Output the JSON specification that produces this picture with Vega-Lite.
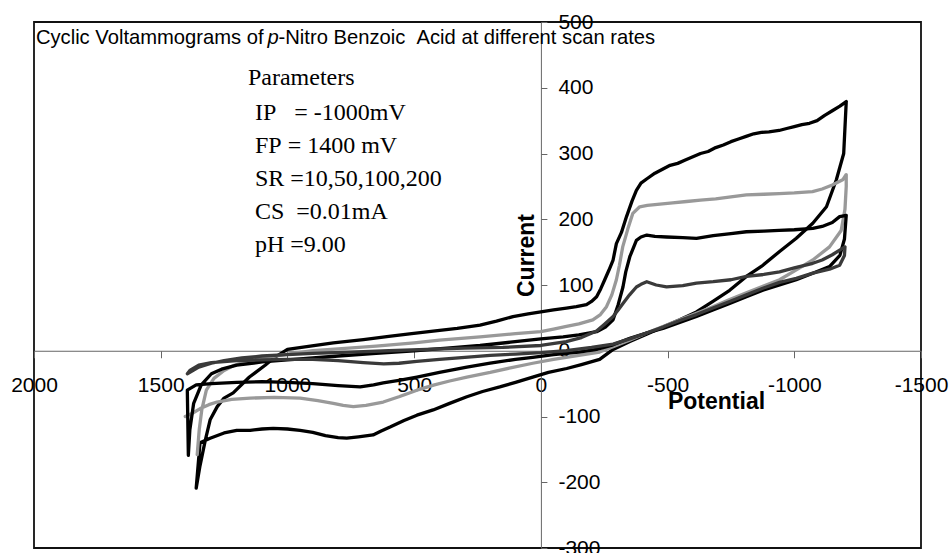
{
  "$schema": "https://vega.github.io/schema/vega-lite/v6.json",
  "autosize": {"type": "none"},
  "padding": {"left": 34, "top": 22, "right": 30, "bottom": 5},
  "width": 887,
  "height": 526,
  "background": "#ffffff",
  "config": {
    "view": {"stroke": "#111111", "strokeWidth": 1.8},
    "axis": {"grid": false}
  },
  "datasets": {
    "cv": [
      {"s":"A","i":1,"x":-1205,"y":379},{"s":"A","i":2,"x":-1180,"y":372},{"s":"A","i":3,"x":-1150,"y":365},{"s":"A","i":4,"x":-1120,"y":358},{"s":"A","i":5,"x":-1090,"y":350},{"s":"A","i":6,"x":-1060,"y":346},{"s":"A","i":7,"x":-1030,"y":344},{"s":"A","i":8,"x":-1000,"y":341},{"s":"A","i":9,"x":-970,"y":338},{"s":"A","i":10,"x":-940,"y":335},{"s":"A","i":11,"x":-900,"y":333},{"s":"A","i":12,"x":-870,"y":332},{"s":"A","i":13,"x":-840,"y":330},{"s":"A","i":14,"x":-810,"y":326},{"s":"A","i":15,"x":-780,"y":322},{"s":"A","i":16,"x":-750,"y":318},{"s":"A","i":17,"x":-720,"y":313},{"s":"A","i":18,"x":-690,"y":309},{"s":"A","i":19,"x":-660,"y":303},{"s":"A","i":20,"x":-630,"y":300},{"s":"A","i":21,"x":-600,"y":295},{"s":"A","i":22,"x":-570,"y":290},{"s":"A","i":23,"x":-540,"y":285},{"s":"A","i":24,"x":-510,"y":282},{"s":"A","i":25,"x":-480,"y":276},{"s":"A","i":26,"x":-450,"y":270},{"s":"A","i":27,"x":-420,"y":262},{"s":"A","i":28,"x":-395,"y":255},{"s":"A","i":29,"x":-377,"y":244},{"s":"A","i":30,"x":-360,"y":228},{"s":"A","i":31,"x":-338,"y":204},{"s":"A","i":32,"x":-318,"y":180},{"s":"A","i":33,"x":-298,"y":163},{"s":"A","i":34,"x":-285,"y":138},{"s":"A","i":35,"x":-268,"y":122},{"s":"A","i":36,"x":-252,"y":108},{"s":"A","i":37,"x":-236,"y":94},{"s":"A","i":38,"x":-220,"y":82},{"s":"A","i":39,"x":-200,"y":75},{"s":"A","i":40,"x":-180,"y":70},{"s":"A","i":41,"x":-140,"y":67},{"s":"A","i":42,"x":-101,"y":65},{"s":"A","i":43,"x":-50,"y":62},{"s":"A","i":44,"x":0,"y":59},{"s":"A","i":45,"x":50,"y":56},{"s":"A","i":46,"x":110,"y":52},{"s":"A","i":47,"x":175,"y":45},{"s":"A","i":48,"x":240,"y":39},{"s":"A","i":49,"x":330,"y":34},{"s":"A","i":50,"x":425,"y":30},{"s":"A","i":51,"x":510,"y":26},{"s":"A","i":52,"x":600,"y":22},{"s":"A","i":53,"x":700,"y":17},{"s":"A","i":54,"x":819,"y":12},{"s":"A","i":55,"x":910,"y":7},{"s":"A","i":56,"x":1000,"y":2},{"s":"A","i":57,"x":1050,"y":-10},{"s":"A","i":58,"x":1088,"y":-22},{"s":"A","i":59,"x":1150,"y":-40},{"s":"A","i":60,"x":1214,"y":-64},{"s":"A","i":61,"x":1250,"y":-72},{"s":"A","i":62,"x":1277,"y":-85},{"s":"A","i":63,"x":1305,"y":-105},{"s":"A","i":64,"x":1324,"y":-136},{"s":"A","i":65,"x":1345,"y":-175},{"s":"A","i":66,"x":1360,"y":-209},{"s":"A","i":67,"x":1345,"y":-140},{"s":"A","i":68,"x":1305,"y":-133},{"s":"A","i":69,"x":1250,"y":-125},{"s":"A","i":70,"x":1200,"y":-121},{"s":"A","i":71,"x":1147,"y":-121},{"s":"A","i":72,"x":1100,"y":-119},{"s":"A","i":73,"x":1056,"y":-118},{"s":"A","i":74,"x":1000,"y":-119},{"s":"A","i":75,"x":950,"y":-121},{"s":"A","i":76,"x":900,"y":-124},{"s":"A","i":77,"x":850,"y":-129},{"s":"A","i":78,"x":800,"y":-132},{"s":"A","i":79,"x":766,"y":-133},{"s":"A","i":80,"x":720,"y":-131},{"s":"A","i":81,"x":662,"y":-128},{"s":"A","i":82,"x":630,"y":-122},{"s":"A","i":83,"x":595,"y":-116},{"s":"A","i":84,"x":540,"y":-106},{"s":"A","i":85,"x":489,"y":-98},{"s":"A","i":86,"x":425,"y":-90},{"s":"A","i":87,"x":360,"y":-80},{"s":"A","i":88,"x":292,"y":-70},{"s":"A","i":89,"x":230,"y":-62},{"s":"A","i":90,"x":162,"y":-55},{"s":"A","i":91,"x":100,"y":-48},{"s":"A","i":92,"x":32,"y":-40},{"s":"A","i":93,"x":-30,"y":-33},{"s":"A","i":94,"x":-102,"y":-27},{"s":"A","i":95,"x":-160,"y":-21},{"s":"A","i":96,"x":-232,"y":-13},{"s":"A","i":97,"x":-285,"y":2},{"s":"A","i":98,"x":-351,"y":14},{"s":"A","i":99,"x":-417,"y":25},{"s":"A","i":100,"x":-482,"y":36},{"s":"A","i":101,"x":-548,"y":47},{"s":"A","i":102,"x":-614,"y":59},{"s":"A","i":103,"x":-679,"y":75},{"s":"A","i":104,"x":-745,"y":92},{"s":"A","i":105,"x":-811,"y":113},{"s":"A","i":106,"x":-876,"y":130},{"s":"A","i":107,"x":-942,"y":151},{"s":"A","i":108,"x":-1008,"y":171},{"s":"A","i":109,"x":-1073,"y":194},{"s":"A","i":110,"x":-1127,"y":219},{"s":"A","i":111,"x":-1166,"y":260},{"s":"A","i":112,"x":-1195,"y":300},{"s":"A","i":113,"x":-1205,"y":379},

      {"s":"B","i":1,"x":1403,"y":-100},{"s":"B","i":2,"x":1375,"y":-95},{"s":"B","i":3,"x":1344,"y":-88},{"s":"B","i":4,"x":1310,"y":-82},{"s":"B","i":5,"x":1278,"y":-78},{"s":"B","i":6,"x":1220,"y":-74},{"s":"B","i":7,"x":1147,"y":-72},{"s":"B","i":8,"x":1050,"y":-71},{"s":"B","i":9,"x":950,"y":-72},{"s":"B","i":10,"x":880,"y":-76},{"s":"B","i":11,"x":819,"y":-80},{"s":"B","i":12,"x":780,"y":-83},{"s":"B","i":13,"x":740,"y":-85},{"s":"B","i":14,"x":690,"y":-83},{"s":"B","i":15,"x":622,"y":-78},{"s":"B","i":16,"x":560,"y":-70},{"s":"B","i":17,"x":489,"y":-60},{"s":"B","i":18,"x":420,"y":-52},{"s":"B","i":19,"x":360,"y":-46},{"s":"B","i":20,"x":292,"y":-40},{"s":"B","i":21,"x":200,"y":-33},{"s":"B","i":22,"x":120,"y":-26},{"s":"B","i":23,"x":32,"y":-19},{"s":"B","i":24,"x":-50,"y":-13},{"s":"B","i":25,"x":-150,"y":-7},{"s":"B","i":26,"x":-232,"y":-2},{"s":"B","i":27,"x":-285,"y":6},{"s":"B","i":28,"x":-350,"y":16},{"s":"B","i":29,"x":-417,"y":27},{"s":"B","i":30,"x":-482,"y":37},{"s":"B","i":31,"x":-548,"y":47},{"s":"B","i":32,"x":-614,"y":57},{"s":"B","i":33,"x":-679,"y":67},{"s":"B","i":34,"x":-745,"y":78},{"s":"B","i":35,"x":-811,"y":88},{"s":"B","i":36,"x":-876,"y":98},{"s":"B","i":37,"x":-942,"y":108},{"s":"B","i":38,"x":-1008,"y":123},{"s":"B","i":39,"x":-1073,"y":138},{"s":"B","i":40,"x":-1139,"y":158},{"s":"B","i":41,"x":-1185,"y":183},{"s":"B","i":42,"x":-1200,"y":215},{"s":"B","i":43,"x":-1205,"y":250},{"s":"B","i":44,"x":-1205,"y":268},{"s":"B","i":45,"x":-1191,"y":260},{"s":"B","i":46,"x":-1150,"y":252},{"s":"B","i":47,"x":-1110,"y":246},{"s":"B","i":48,"x":-1072,"y":242},{"s":"B","i":49,"x":-1000,"y":240},{"s":"B","i":50,"x":-940,"y":239},{"s":"B","i":51,"x":-880,"y":238},{"s":"B","i":52,"x":-811,"y":237},{"s":"B","i":53,"x":-750,"y":234},{"s":"B","i":54,"x":-690,"y":231},{"s":"B","i":55,"x":-630,"y":229},{"s":"B","i":56,"x":-575,"y":227},{"s":"B","i":57,"x":-520,"y":225},{"s":"B","i":58,"x":-470,"y":223},{"s":"B","i":59,"x":-420,"y":221},{"s":"B","i":60,"x":-390,"y":219},{"s":"B","i":61,"x":-363,"y":209},{"s":"B","i":62,"x":-343,"y":185},{"s":"B","i":63,"x":-323,"y":158},{"s":"B","i":64,"x":-310,"y":130},{"s":"B","i":65,"x":-298,"y":108},{"s":"B","i":66,"x":-280,"y":85},{"s":"B","i":67,"x":-259,"y":67},{"s":"B","i":68,"x":-235,"y":55},{"s":"B","i":69,"x":-205,"y":47},{"s":"B","i":70,"x":-150,"y":41},{"s":"B","i":71,"x":-101,"y":37},{"s":"B","i":72,"x":-50,"y":33},{"s":"B","i":73,"x":0,"y":29},{"s":"B","i":74,"x":100,"y":26},{"s":"B","i":75,"x":240,"y":21},{"s":"B","i":76,"x":400,"y":16},{"s":"B","i":77,"x":500,"y":12},{"s":"B","i":78,"x":650,"y":7},{"s":"B","i":79,"x":800,"y":3},{"s":"B","i":80,"x":900,"y":0},{"s":"B","i":81,"x":1000,"y":-5},{"s":"B","i":82,"x":1080,"y":-10},{"s":"B","i":83,"x":1150,"y":-15},{"s":"B","i":84,"x":1210,"y":-22},{"s":"B","i":85,"x":1250,"y":-30},{"s":"B","i":86,"x":1290,"y":-42},{"s":"B","i":87,"x":1320,"y":-60},{"s":"B","i":88,"x":1338,"y":-90},{"s":"B","i":89,"x":1348,"y":-120},{"s":"B","i":90,"x":1356,"y":-158},

      {"s":"C","i":1,"x":-1205,"y":206},{"s":"C","i":2,"x":-1179,"y":204},{"s":"C","i":3,"x":-1150,"y":195},{"s":"C","i":4,"x":-1110,"y":189},{"s":"C","i":5,"x":-1073,"y":186},{"s":"C","i":6,"x":-1000,"y":184},{"s":"C","i":7,"x":-940,"y":183},{"s":"C","i":8,"x":-880,"y":182},{"s":"C","i":9,"x":-811,"y":181},{"s":"C","i":10,"x":-750,"y":178},{"s":"C","i":11,"x":-680,"y":175},{"s":"C","i":12,"x":-614,"y":171},{"s":"C","i":13,"x":-560,"y":172},{"s":"C","i":14,"x":-496,"y":173},{"s":"C","i":15,"x":-450,"y":174},{"s":"C","i":16,"x":-418,"y":176},{"s":"C","i":17,"x":-395,"y":173},{"s":"C","i":18,"x":-377,"y":168},{"s":"C","i":19,"x":-351,"y":143},{"s":"C","i":20,"x":-335,"y":120},{"s":"C","i":21,"x":-324,"y":97},{"s":"C","i":22,"x":-305,"y":70},{"s":"C","i":23,"x":-285,"y":47},{"s":"C","i":24,"x":-255,"y":36},{"s":"C","i":25,"x":-220,"y":29},{"s":"C","i":26,"x":-150,"y":24},{"s":"C","i":27,"x":-88,"y":21},{"s":"C","i":28,"x":0,"y":18},{"s":"C","i":29,"x":120,"y":13},{"s":"C","i":30,"x":240,"y":8},{"s":"C","i":31,"x":370,"y":4},{"s":"C","i":32,"x":500,"y":0},{"s":"C","i":33,"x":650,"y":-4},{"s":"C","i":34,"x":800,"y":-8},{"s":"C","i":35,"x":900,"y":-11},{"s":"C","i":36,"x":1000,"y":-14},{"s":"C","i":37,"x":1100,"y":-17},{"s":"C","i":38,"x":1200,"y":-22},{"s":"C","i":39,"x":1260,"y":-28},{"s":"C","i":40,"x":1300,"y":-35},{"s":"C","i":41,"x":1340,"y":-52},{"s":"C","i":42,"x":1370,"y":-80},{"s":"C","i":43,"x":1385,"y":-120},{"s":"C","i":44,"x":1391,"y":-159},{"s":"C","i":45,"x":1395,"y":-60},{"s":"C","i":46,"x":1360,"y":-52},{"s":"C","i":47,"x":1300,"y":-50},{"s":"C","i":48,"x":1200,"y":-48},{"s":"C","i":49,"x":1100,"y":-47},{"s":"C","i":50,"x":1000,"y":-48},{"s":"C","i":51,"x":900,"y":-50},{"s":"C","i":52,"x":800,"y":-53},{"s":"C","i":53,"x":713,"y":-55},{"s":"C","i":54,"x":660,"y":-52},{"s":"C","i":55,"x":622,"y":-49},{"s":"C","i":56,"x":560,"y":-45},{"s":"C","i":57,"x":489,"y":-40},{"s":"C","i":58,"x":400,"y":-33},{"s":"C","i":59,"x":292,"y":-25},{"s":"C","i":60,"x":200,"y":-19},{"s":"C","i":61,"x":100,"y":-13},{"s":"C","i":62,"x":32,"y":-10},{"s":"C","i":63,"x":-50,"y":-6},{"s":"C","i":64,"x":-150,"y":-2},{"s":"C","i":65,"x":-220,"y":2},{"s":"C","i":66,"x":-285,"y":9},{"s":"C","i":67,"x":-351,"y":19},{"s":"C","i":68,"x":-417,"y":27},{"s":"C","i":69,"x":-482,"y":34},{"s":"C","i":70,"x":-548,"y":43},{"s":"C","i":71,"x":-614,"y":52},{"s":"C","i":72,"x":-679,"y":62},{"s":"C","i":73,"x":-745,"y":72},{"s":"C","i":74,"x":-811,"y":82},{"s":"C","i":75,"x":-876,"y":92},{"s":"C","i":76,"x":-942,"y":100},{"s":"C","i":77,"x":-1008,"y":108},{"s":"C","i":78,"x":-1073,"y":118},{"s":"C","i":79,"x":-1139,"y":128},{"s":"C","i":80,"x":-1180,"y":145},{"s":"C","i":81,"x":-1198,"y":170},{"s":"C","i":82,"x":-1205,"y":206},

      {"s":"D","i":1,"x":-1200,"y":158},{"s":"D","i":2,"x":-1150,"y":146},{"s":"D","i":3,"x":-1110,"y":138},{"s":"D","i":4,"x":-1073,"y":133},{"s":"D","i":5,"x":-1000,"y":126},{"s":"D","i":6,"x":-942,"y":120},{"s":"D","i":7,"x":-880,"y":116},{"s":"D","i":8,"x":-811,"y":113},{"s":"D","i":9,"x":-750,"y":108},{"s":"D","i":10,"x":-680,"y":105},{"s":"D","i":11,"x":-614,"y":103},{"s":"D","i":12,"x":-560,"y":99},{"s":"D","i":13,"x":-496,"y":97},{"s":"D","i":14,"x":-455,"y":100},{"s":"D","i":15,"x":-418,"y":105},{"s":"D","i":16,"x":-395,"y":101},{"s":"D","i":17,"x":-377,"y":97},{"s":"D","i":18,"x":-350,"y":85},{"s":"D","i":19,"x":-324,"y":72},{"s":"D","i":20,"x":-305,"y":62},{"s":"D","i":21,"x":-285,"y":52},{"s":"D","i":22,"x":-250,"y":40},{"s":"D","i":23,"x":-220,"y":30},{"s":"D","i":24,"x":-160,"y":20},{"s":"D","i":25,"x":-100,"y":14},{"s":"D","i":26,"x":0,"y":8},{"s":"D","i":27,"x":150,"y":5},{"s":"D","i":28,"x":300,"y":4},{"s":"D","i":29,"x":450,"y":2},{"s":"D","i":30,"x":600,"y":0},{"s":"D","i":31,"x":750,"y":-2},{"s":"D","i":32,"x":900,"y":-4},{"s":"D","i":33,"x":1000,"y":-6},{"s":"D","i":34,"x":1100,"y":-8},{"s":"D","i":35,"x":1180,"y":-11},{"s":"D","i":36,"x":1250,"y":-15},{"s":"D","i":37,"x":1300,"y":-19},{"s":"D","i":38,"x":1350,"y":-25},{"s":"D","i":39,"x":1395,"y":-35},{"s":"D","i":40,"x":1385,"y":-30},{"s":"D","i":41,"x":1350,"y":-22},{"s":"D","i":42,"x":1300,"y":-18},{"s":"D","i":43,"x":1200,"y":-15},{"s":"D","i":44,"x":1100,"y":-14},{"s":"D","i":45,"x":1000,"y":-13},{"s":"D","i":46,"x":900,"y":-13},{"s":"D","i":47,"x":800,"y":-15},{"s":"D","i":48,"x":700,"y":-18},{"s":"D","i":49,"x":620,"y":-20},{"s":"D","i":50,"x":560,"y":-19},{"s":"D","i":51,"x":490,"y":-16},{"s":"D","i":52,"x":400,"y":-13},{"s":"D","i":53,"x":300,"y":-10},{"s":"D","i":54,"x":200,"y":-7},{"s":"D","i":55,"x":100,"y":-5},{"s":"D","i":56,"x":0,"y":-3},{"s":"D","i":57,"x":-100,"y":0},{"s":"D","i":58,"x":-200,"y":5},{"s":"D","i":59,"x":-285,"y":10},{"s":"D","i":60,"x":-351,"y":18},{"s":"D","i":61,"x":-417,"y":27},{"s":"D","i":62,"x":-482,"y":36},{"s":"D","i":63,"x":-548,"y":46},{"s":"D","i":64,"x":-614,"y":55},{"s":"D","i":65,"x":-679,"y":65},{"s":"D","i":66,"x":-745,"y":75},{"s":"D","i":67,"x":-811,"y":85},{"s":"D","i":68,"x":-876,"y":95},{"s":"D","i":69,"x":-942,"y":104},{"s":"D","i":70,"x":-1008,"y":110},{"s":"D","i":71,"x":-1073,"y":118},{"s":"D","i":72,"x":-1139,"y":124},{"s":"D","i":73,"x":-1179,"y":130},{"s":"D","i":74,"x":-1198,"y":145},{"s":"D","i":75,"x":-1200,"y":158}
    ]
  },
  "layer": [
    {
      "data": {"name": "cv"},
      "mark": {"type": "line", "strokeWidth": 3.3, "strokeJoin": "round", "strokeCap": "round"},
      "encoding": {
        "x": {
          "field": "x", "type": "quantitative",
          "scale": {"domain": [-1500, 2000], "reverse": true, "nice": false, "zero": false},
          "axis": {
            "orient": "bottom", "offset": -197.25,
            "values": [2000, 1500, 1000, 500, 0, -500, -1000, -1500],
            "labelExpr": "'' + datum.value",
            "labelFont": "Liberation Sans", "labelFontSize": 21, "labelColor": "#000000",
            "labelPadding": 17, "labelFlush": false, "labelOverlap": false, "labelBound": false,
            "tickSize": 7, "tickColor": "#666666", "tickWidth": 1,
            "domainColor": "#666666", "domainWidth": 1,
            "title": "Potential", "titleFont": "Liberation Sans", "titleFontWeight": "bold",
            "titleFontSize": 23, "titleColor": "#000000",
            "titleX": 682, "titleY": 51, "titleAlign": "center", "titleBaseline": "middle"
          }
        },
        "y": {
          "field": "y", "type": "quantitative",
          "scale": {"domain": [-300, 500], "nice": false, "zero": false},
          "axis": {
            "orient": "right", "offset": -380.1,
            "values": [-300, -200, -100, 0, 100, 200, 300, 400, 500],
            "labelExpr": "'' + datum.value",
            "labelFont": "Liberation Sans", "labelFontSize": 21, "labelColor": "#000000",
            "labelPadding": 11, "labelFlush": false, "labelOverlap": false, "labelBound": false,
            "tickSize": 6, "tickColor": "#666666", "tickWidth": 1,
            "domainColor": "#666666", "domainWidth": 1,
            "title": "Current", "titleFont": "Liberation Sans", "titleFontWeight": "bold",
            "titleFontSize": 23, "titleColor": "#000000", "titleAngle": 270,
            "titleX": -14, "titleY": 233, "titleAlign": "center", "titleBaseline": "middle"
          }
        },
        "color": {
          "field": "s", "type": "nominal",
          "scale": {"domain": ["A", "B", "C", "D"], "range": ["#000000", "#999999", "#000000", "#3a3a3a"]},
          "legend": null
        },
        "order": {"field": "i", "type": "quantitative"}
      }
    },
    {
      "data": {"values": [{}]},
      "mark": {"type": "text", "font": "Liberation Sans", "fontSize": 20.2, "align": "left", "baseline": "middle", "color": "#000000"},
      "encoding": {
        "x": {"datum": 1992.6, "type": "quantitative"},
        "y": {"datum": 475.7, "type": "quantitative"},
        "text": {"value": "Cyclic Voltammograms of"}
      }
    },
    {
      "data": {"values": [{}]},
      "mark": {"type": "text", "font": "Liberation Sans", "fontSize": 20.2, "fontStyle": "italic", "align": "left", "baseline": "middle", "color": "#000000"},
      "encoding": {
        "x": {"datum": 1079, "type": "quantitative"},
        "y": {"datum": 475.7, "type": "quantitative"},
        "text": {"value": "p"}
      }
    },
    {
      "data": {"values": [{}]},
      "mark": {"type": "text", "font": "Liberation Sans", "fontSize": 20.2, "align": "left", "baseline": "middle", "color": "#000000"},
      "encoding": {
        "x": {"datum": 1035, "type": "quantitative"},
        "y": {"datum": 475.7, "type": "quantitative"},
        "text": {"value": "-Nitro Benzoic\u00a0\u00a0Acid at different scan rates"}
      }
    },
    {
      "data": {"values": [{}]},
      "mark": {"type": "text", "font": "Liberation Serif", "fontSize": 24, "align": "left", "baseline": "middle", "color": "#000000"},
      "encoding": {
        "x": {"datum": 1155.8, "type": "quantitative"},
        "y": {"datum": 414.8, "type": "quantitative"},
        "text": {"value": "Parameters"}
      }
    },
    {
      "data": {"values": [{}]},
      "mark": {"type": "text", "font": "Liberation Serif", "fontSize": 24, "align": "left", "baseline": "top", "lineHeight": 33, "color": "#000000"},
      "encoding": {
        "x": {"datum": 1128.1, "type": "quantitative"},
        "y": {"datum": 379.8, "type": "quantitative"},
        "text": {"value": ["IP\u00a0\u00a0\u00a0=\u00a0-1000mV", "FP\u00a0=\u00a01400\u00a0mV", "SR\u00a0=10,50,100,200", "CS\u00a0\u00a0=0.01mA", "pH\u00a0=9.00"]}
      }
    }
  ]
}
